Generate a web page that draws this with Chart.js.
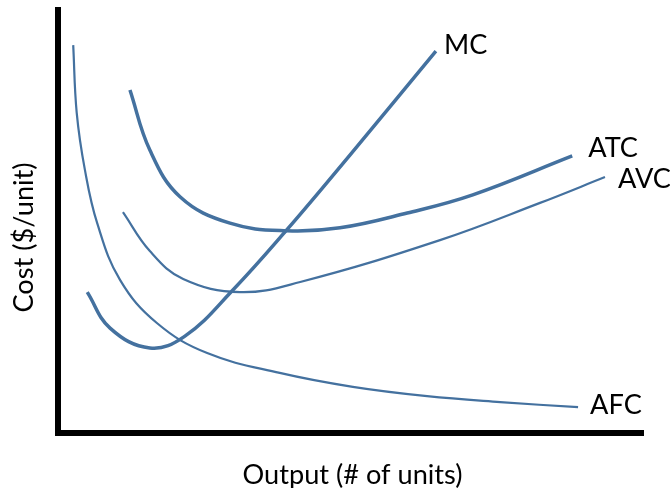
<!DOCTYPE html>
<html>
<head>
<meta charset="utf-8">
<script src="https://cdn.jsdelivr.net/npm/chart.js@4.4.1/dist/chart.umd.min.js"></script>
<style>
  html, body { margin: 0; padding: 0; background: #fff; }
  #wrap { width: 670px; height: 488px; position: relative; }
</style>
</head>
<body>
<div id="wrap"><canvas id="chart"></canvas></div>
<script>
// output (x) and cost (y) on a 0-100 scale
const mcOutput = [5.0, 8.9, 15.7, 21.7, 29.9, 39.1, 49.9, 64.6];
const mcCost = [33.3, 24.8, 20.1, 22.9, 33.8, 48.0, 65.7, 90.3];

const atcOutput = [12.3, 15.7, 20.9, 29.4, 39.1, 48.2, 59.7, 70.9, 87.9];
const atcCost = [81.1, 66.9, 55.8, 49.6, 47.8, 48.5, 52.0, 56.3, 65.5];

const avcOutput = [11.1, 15.7, 21.4, 31.1, 41.4, 65.3, 82.4, 93.5];
const avcCost = [52.2, 43.0, 36.4, 33.3, 35.7, 45.6, 54.4, 60.5];

const afcOutput = [2.6, 3.2, 4.6, 6.7, 10.6, 16.9, 25.5, 37.9, 50.4, 63.1, 75.6, 88.9];
const afcCost = [91.7, 75.7, 62.2, 49.6, 36.2, 26.0, 18.9, 14.2, 10.9, 8.7, 7.3, 6.1];

const curveNames = ["MC", "ATC", "AVC", "AFC"];
const xTitle = "Output (# of units)";
const yTitle = "Cost ($/unit)";

const BLUE = "#44719f";

const toPoints = (xs, ys) => xs.map((x, i) => ({ x, y: ys[i] }));

const series = [
    { name: curveNames[0], points: toPoints(mcOutput, mcCost), width: 3.5 },
    { name: curveNames[1], points: toPoints(atcOutput, atcCost), width: 3.5 },
    { name: curveNames[2], points: toPoints(avcOutput, avcCost), width: 2.2 },
    { name: curveNames[3], points: toPoints(afcOutput, afcCost), width: 2.2 }
];

// where each curve's name sits, relative to the curve's last point
const labelOffsets = {
    MC: { dx: 8, dy: -8 },
    ATC: { dx: 16, dy: -10 },
    AVC: { dx: 13, dy: 0 },
    AFC: { dx: 12, dy: -4 }
};

const FONT = "27px Lato";
let squeeze = 1;

const stretchedText = (ctx, text, x, y, rotate) => {
    ctx.save();
    ctx.translate(x, y);
    if (rotate) ctx.rotate(-Math.PI / 2);
    ctx.scale(squeeze, 1);
    ctx.fillText(text, 0, 0);
    ctx.restore();
};

const textPlugin = {
    id: "curveText",
    afterDraw(chart) {
        const { ctx, scales } = chart;
        ctx.save();
        ctx.font = FONT;
        ctx.fillStyle = "#000";
        // the source text is tall and narrow: squeeze it to the title's width
        squeeze = 220 / ctx.measureText(xTitle).width;

        ctx.textAlign = "left";
        ctx.textBaseline = "middle";
        chart.data.datasets.forEach((ds) => {
            const last = ds.data[ds.data.length - 1];
            const off = labelOffsets[ds.label];
            const px = scales.x.getPixelForValue(last.x) + off.dx;
            const py = scales.y.getPixelForValue(last.y) + off.dy;
            stretchedText(ctx, ds.label, px, py + 2, false);
        });

        ctx.textAlign = "center";
        ctx.textBaseline = "alphabetic";
        const midX = (chart.chartArea.left + chart.chartArea.right) / 2;
        stretchedText(ctx, xTitle, midX + 2, 484, false);
        const midY = (chart.chartArea.top + chart.chartArea.bottom) / 2;
        stretchedText(ctx, yTitle, 33, midY + 16, true);
        ctx.restore();
    }
};

const axis = (min, max) => ({
    type: "linear",
    min,
    max,
    ticks: { display: false },
    grid: { display: false, drawTicks: false },
    border: { display: true, color: "#000", width: 6 },
    title: { display: false }
});

new Chart(document.getElementById("chart"), {
    type: "line",
    data: {
        datasets: series.map((s) => ({
            label: s.name,
            data: s.points,
            borderColor: BLUE,
            borderWidth: s.width,
            pointRadius: 0,
            fill: false,
            tension: 0.4,
            borderCapStyle: "butt"
        }))
    },
    options: {
        responsive: true,
        maintainAspectRatio: false,
        animation: false,
        layout: { padding: { left: 58, right: 27, top: 10, bottom: 55 } },
        scales: {
            x: axis(0, 100),
            y: axis(0, 100)
        },
        plugins: {
            legend: { display: false },
            tooltip: { enabled: false }
        }
    },
    plugins: [textPlugin]
});
</script>
</body>
</html>
